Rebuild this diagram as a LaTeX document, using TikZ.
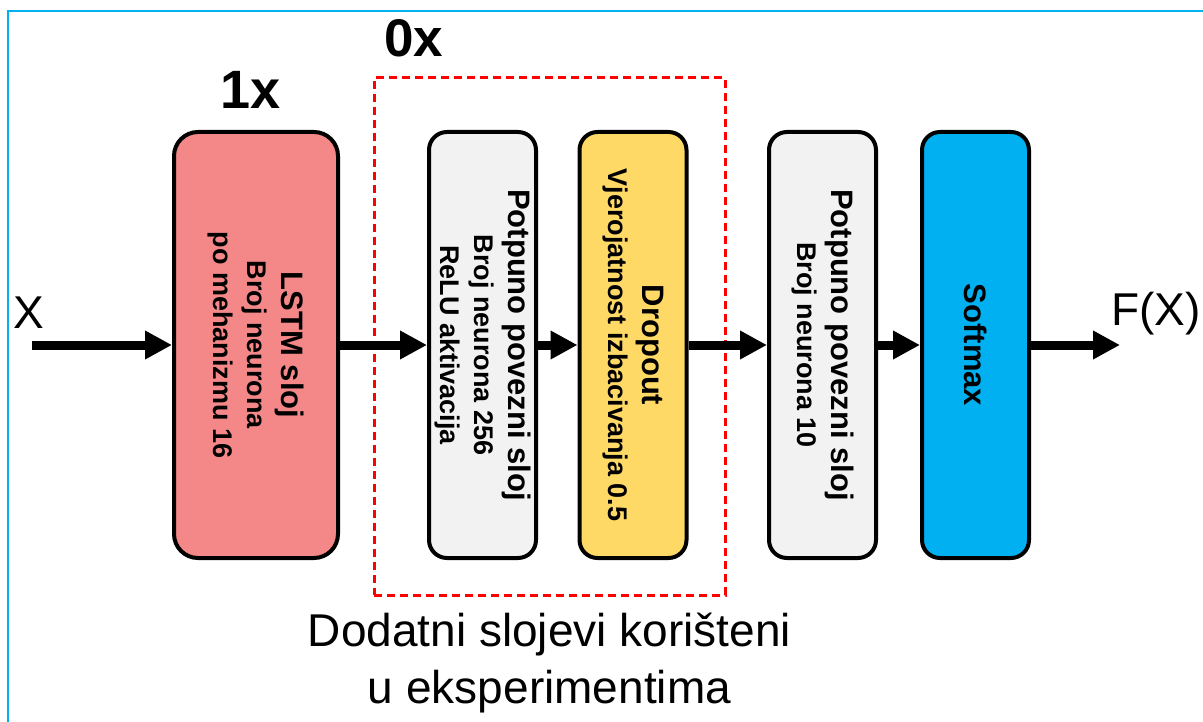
\documentclass[tikz,border=0pt]{standalone}
\usepackage{fontspec}
\setmainfont{Liberation Sans}
\usetikzlibrary{arrows.meta}
\definecolor{salmon}{RGB}{244,135,135}
\definecolor{lgray}{RGB}{242,242,242}
\definecolor{gold}{RGB}{255,217,102}
\definecolor{sky}{RGB}{0,176,240}
\definecolor{redd}{RGB}{255,0,0}
\tikzset{
  layer/.style={draw=black, line width=4pt, rotate=-90, inner sep=0pt,
    minimum width=426pt, minimum height=107pt, rounded corners=18pt, align=center,
    font=\bfseries\fontsize{27}{34}\selectfont},
  flow/.style={line width=9pt, -{Triangle[length=27pt,width=27pt]}},
  big/.style={font=\fontsize{46}{57}\selectfont, inner sep=0pt},
  count/.style={font=\bfseries\fontsize{54}{60}\selectfont, inner sep=0pt},
  group/.style={draw=redd, line width=3pt, dash pattern=on 8pt off 5pt,
    minimum width=351pt, minimum height=517pt, inner sep=0pt}
}
\begin{document}
\begin{tikzpicture}[x=1pt,y=1pt]
\useasboundingbox (0,0) rectangle (1203,-722);
% frame
\draw[sky, line width=2.5pt] (8,-722) -- (8,-11) -- (1204,-11);
% group box
\node[group] (grp) at (549.5,-336.5) {};
% layers
\node[layer, fill=salmon, minimum height=164pt, rounded corners=24pt] (lstm) at (256,-345)
  {{\fontsize{31}{34}\selectfont LSTM sloj}\\Broj neurona\\po mehanizmu 16};
\node[layer, fill=lgray] (fc1) at (482.5,-345)
  {{\fontsize{31}{34}\selectfont Potpuno povezni sloj}\\Broj neurona 256\\ReLU aktivacija};
\node[layer, fill=gold] (drop) at (633,-345)
  {{\fontsize{31}{34}\selectfont Dropout}\\Vjerojatnost izbacivanja 0.5};
\node[layer, fill=lgray] (fc2) at (822.5,-345)
  {{\fontsize{31}{34}\selectfont Potpuno povezni sloj}\\Broj neurona 10};
\node[layer, fill=sky] (soft) at (975.5,-345)
  {{\fontsize{31}{34}\selectfont Softmax}};
% labels
\node[count] (one) at (251,-90) {1x};
\node[count, font=\bfseries\fontsize{53}{60}\selectfont] (zero) at (413.5,-38.5) {0x};
\node[big, anchor=base west] (xin) at (13,-329) {X};
\node[big, anchor=base west] (fout) at (1111,-325) {F(X)};
\node[big, align=center, anchor=north] (cap) at (549.5,-613) {Dodatni slojevi korišteni\\u eksperimentima};
% connectors
\coordinate (start) at (32,-345);
\coordinate (finish) at (1120,-345);
\draw[flow] (start) -- (lstm);
\draw[flow] (lstm) -- (fc1);
\draw[flow] (fc1) -- (drop);
\draw[flow] (drop) -- (fc2);
\draw[flow] (fc2) -- (soft);
\draw[flow] (soft) -- (finish);
\end{tikzpicture}
\end{document}
